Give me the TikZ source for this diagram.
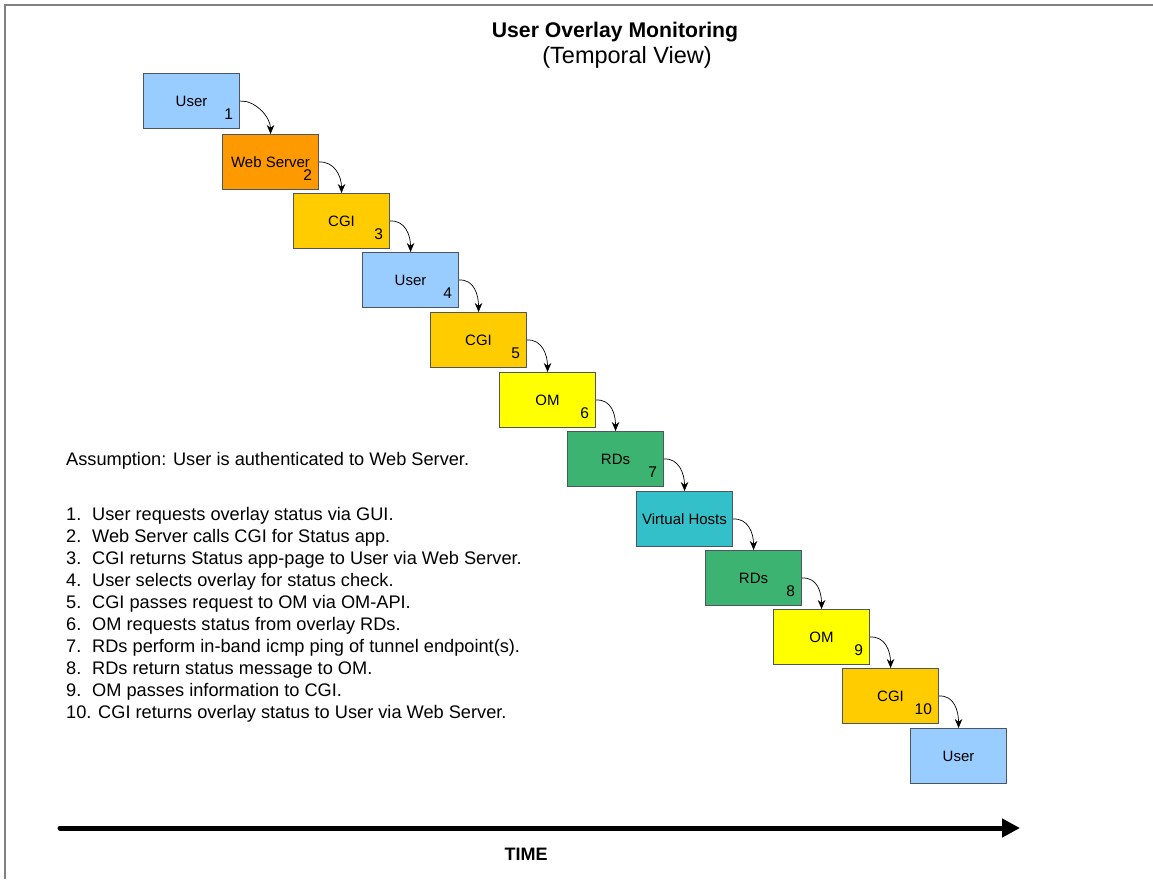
\documentclass[tikz,border=0pt]{standalone}
\usepackage{fontspec}
\setmainfont{Liberation Sans}
\usetikzlibrary{arrows.meta}

\definecolor{userblue}{HTML}{99CCFF}
\definecolor{weborange}{HTML}{FF9900}
\definecolor{cgigold}{HTML}{FFCC00}
\definecolor{omyellow}{HTML}{FFFF00}
\definecolor{rdgreen}{HTML}{3CB371}
\definecolor{vhteal}{HTML}{33C0C8}
\definecolor{edgegray}{HTML}{4D5560}
\definecolor{framegray}{HTML}{808080}

\begin{document}
\begin{tikzpicture}[x=1pt,y=-1pt,
  box/.style={draw=edgegray, line width=1.1pt, minimum width=96pt, minimum height=55pt,
    anchor=north west, inner sep=0pt, font=\fontsize{15}{18}\selectfont},
  num/.style={anchor=south east, inner sep=0pt, font=\fontsize{15.5}{18}\selectfont},
  flow/.style={-{Stealth[length=9pt,width=7.5pt]}, line width=0.7pt},
  item/.style={anchor=west, inner sep=0pt, font=\fontsize{18.2}{22}\selectfont},
  title/.style={inner sep=0pt, font=\fontsize{21.2}{25}\selectfont\bfseries},
  subtitle/.style={inner sep=0pt, font=\fontsize{23.5}{27}\selectfont},
  timeaxis/.style={line width=5pt, line cap=round, -{Triangle[length=18pt,width=18pt]}}]

% page extent and frame
\useasboundingbox (0,0) rectangle (1153,879);
\fill[white] (0,0) rectangle (1153,879);
\coordinate (frameTR) at (1153,5);
\coordinate (frameTL) at (5,5);
\coordinate (frameBL) at (5,879);
\draw[framegray, line width=2.5pt] (frameTR) -- (frameTL) -- (frameBL);

% headings
\node[title] (ttl) at (615,32) {User Overlay Monitoring};
\node[subtitle] (sub) at (627,57) {(Temporal View)};

% sequence of steps along the time axis
\node[box, fill=userblue]   (s1)  at (143,73)  {User};
\node[box, fill=weborange]  (s2)  at (222,134) {Web Server};
\node[box, fill=cgigold]    (s3)  at (293,193) {CGI};
\node[box, fill=userblue]   (s4)  at (362,252) {User};
\node[box, fill=cgigold]    (s5)  at (430,312) {CGI};
\node[box, fill=omyellow]   (s6)  at (499,372) {OM};
\node[box, fill=rdgreen]    (s7)  at (567,431) {RDs};
\node[box, fill=vhteal]     (s8)  at (636,491) {Virtual Hosts};
\node[box, fill=rdgreen]    (s9)  at (705,550) {RDs};
\node[box, fill=omyellow]   (s10) at (773,609) {OM};
\node[box, fill=cgigold]    (s11) at (842,668) {CGI};
\node[box, fill=userblue]   (s12) at (910,728) {User};

% step numbers
\node[num] (n1)  at ([shift={(-7,-9)}]s1.south east)  {1};
\node[num] (n2)  at ([shift={(-7,-9)}]s2.south east)  {2};
\node[num] (n3)  at ([shift={(-7,-9)}]s3.south east)  {3};
\node[num] (n4)  at ([shift={(-7,-9)}]s4.south east)  {4};
\node[num] (n5)  at ([shift={(-7,-9)}]s5.south east)  {5};
\node[num] (n6)  at ([shift={(-7,-9)}]s6.south east)  {6};
\node[num] (n7)  at ([shift={(-7,-9)}]s7.south east)  {7};
\node[num] (n8)  at ([shift={(-7,-9)}]s9.south east)  {8};
\node[num] (n9)  at ([shift={(-7,-9)}]s10.south east) {9};
\node[num] (n10) at ([shift={(-7,-9)}]s11.south east) {10};

% hand-offs between consecutive steps
\foreach \a/\b in {s1/s2,s2/s3,s3/s4,s4/s5,s5/s6,s6/s7,s7/s8,s8/s9,s9/s10,s10/s11,s11/s12}
  \draw[flow] (\a.east) .. controls +(15,-1) and +(0,-17) .. (\b.north);

% explanatory notes
\node[item] (assume) at (66,461) {Assumption: User is authenticated to Web Server.};
\newcommand{\stepno}[1]{\makebox[26pt][l]{#1}}
\node[item] (l1)  at (66,516) {\stepno{1.}User requests overlay status via GUI.};
\node[item] (l2)  at (66,538) {\stepno{2.}Web Server calls CGI for Status app.};
\node[item] (l3)  at (66,560) {\stepno{3.}CGI returns Status app-page to User via Web Server.};
\node[item] (l4)  at (66,582) {\stepno{4.}User selects overlay for status check.};
\node[item] (l5)  at (66,604) {\stepno{5.}CGI passes request to OM via OM-API.};
\node[item] (l6)  at (66,626) {\stepno{6.}OM requests status from overlay RDs.};
\node[item] (l7)  at (66,648) {\stepno{7.}RDs perform in-band icmp ping of tunnel endpoint(s).};
\node[item] (l8)  at (66,670) {\stepno{8.}RDs return status message to OM.};
\node[item] (l9)  at (66,692) {\stepno{9.}OM passes information to CGI.};
\node[item] (l10) at (66,714) {10. CGI returns overlay status to User via Web Server.};

% time axis
\coordinate (tstart) at (60,828);
\coordinate (tend) at (1020,828);
\draw[timeaxis] (tstart) -- (tend);
\node[inner sep=0pt, font=\fontsize{18}{21}\selectfont\bfseries] (tlabel) at (526,854) {TIME};

\end{tikzpicture}
\end{document}
